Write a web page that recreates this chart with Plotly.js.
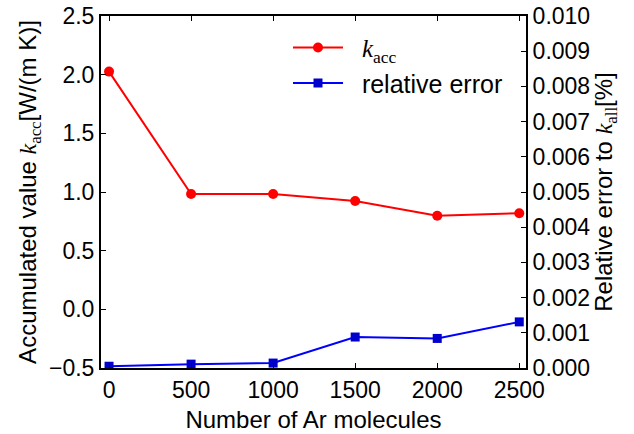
<!DOCTYPE html>
<html>
<head>
<meta charset="utf-8">
<script src="https://cdn.plot.ly/plotly-3.0.1.min.js"></script>
<style>html,body{margin:0;padding:0;background:#fff;}#chart{width:634px;height:434px;}</style>
</head>
<body>
<div id="chart"></div>
<script>
const molecules = [0, 500, 1000, 1500, 2000, 2500];
const kAcc = [2.026, 0.983, 0.983, 0.924, 0.798, 0.819];
const relError = [0.00005, 0.00011, 0.00014, 0.00088, 0.00084, 0.00131];
const xTicks = [0, 500, 1000, 1500, 2000, 2500];

const SERIF = 'Liberation Serif, Times New Roman, serif';
const kAccHtml = '<span style="font-family:' + SERIF + '"><i>k</i><sub>acc</sub></span>';
const kAllHtml = '<span style="font-family:' + SERIF + '"><i>k</i><sub>all</sub></span>';
const PAD = '&nbsp;&nbsp;';

const traces = [
  {
    x: molecules, y: kAcc, name: PAD + kAccHtml, type: 'scatter', mode: 'lines+markers',
    line: {color: '#ff0000', width: 2}, marker: {color: '#ff0000', size: 10, symbol: 'circle'},
    legendgroup: 'a', yaxis: 'y'
  },
  {
    x: molecules, y: relError, name: PAD + 'relative error', type: 'scatter', mode: 'lines+markers',
    line: {color: '#0000ff', width: 2}, marker: {color: '#0000cc', size: 9, symbol: 'square'},
    legendgroup: 'b', yaxis: 'y2'
  }
];

const SANS = 'Liberation Sans, Arial, sans-serif';
const tickFont = {family: SANS, size: 23, color: '#000'};
const titleFont = {family: SANS, size: 24, color: '#000'};
const legendFont = {family: SANS, size: 25, color: '#000'};

const layout = {
  width: 634, height: 434,
  margin: {l: 101, r: 108, t: 16, b: 66},
  paper_bgcolor: '#fff', plot_bgcolor: '#fff',
  font: tickFont,
  showlegend: true,
  legend: {x: 0.44, y: 0.975, xanchor: 'left', yanchor: 'top', bgcolor: 'rgba(0,0,0,0)',
           font: legendFont, tracegroupgap: 0, traceorder: 'grouped', itemwidth: 50},
  xaxis: {
    range: [-49, 2541], tickvals: xTicks, ticktext: xTicks.map(String),
    showline: true, linecolor: '#000', linewidth: 2, mirror: 'ticks',
    ticks: 'inside', ticklen: 5, tickwidth: 1, tickcolor: '#000',
    showgrid: false, zeroline: false, tickfont: tickFont,
    title: {text: 'Number of Ar molecules', font: titleFont, standoff: 10}
  },
  yaxis: {
    range: [-0.5, 2.5], dtick: 0.5, tick0: 0, tickformat: '.1f',
    showline: true, linecolor: '#000', linewidth: 2,
    ticks: 'inside', ticklen: 5, tickwidth: 1, tickcolor: '#000',
    showgrid: false, zeroline: false, tickfont: tickFont,
    title: {text: 'Accumulated value ' + kAccHtml + '[W/(m K)]', font: titleFont, standoff: 6}
  },
  yaxis2: {
    overlaying: 'y', side: 'right',
    range: [0, 0.010], dtick: 0.001, tick0: 0, tickformat: '.3f',
    showline: true, linecolor: '#000', linewidth: 2,
    ticks: 'inside', ticklen: 5, tickwidth: 1, tickcolor: '#000',
    showgrid: false, zeroline: false, tickfont: tickFont,
    title: {text: 'Relative error to ' + kAllHtml + '[%]', font: titleFont, standoff: 6}
  }
};

Plotly.newPlot('chart', traces, layout, {displayModeBar: false, staticPlot: true});
</script>
</body>
</html>
